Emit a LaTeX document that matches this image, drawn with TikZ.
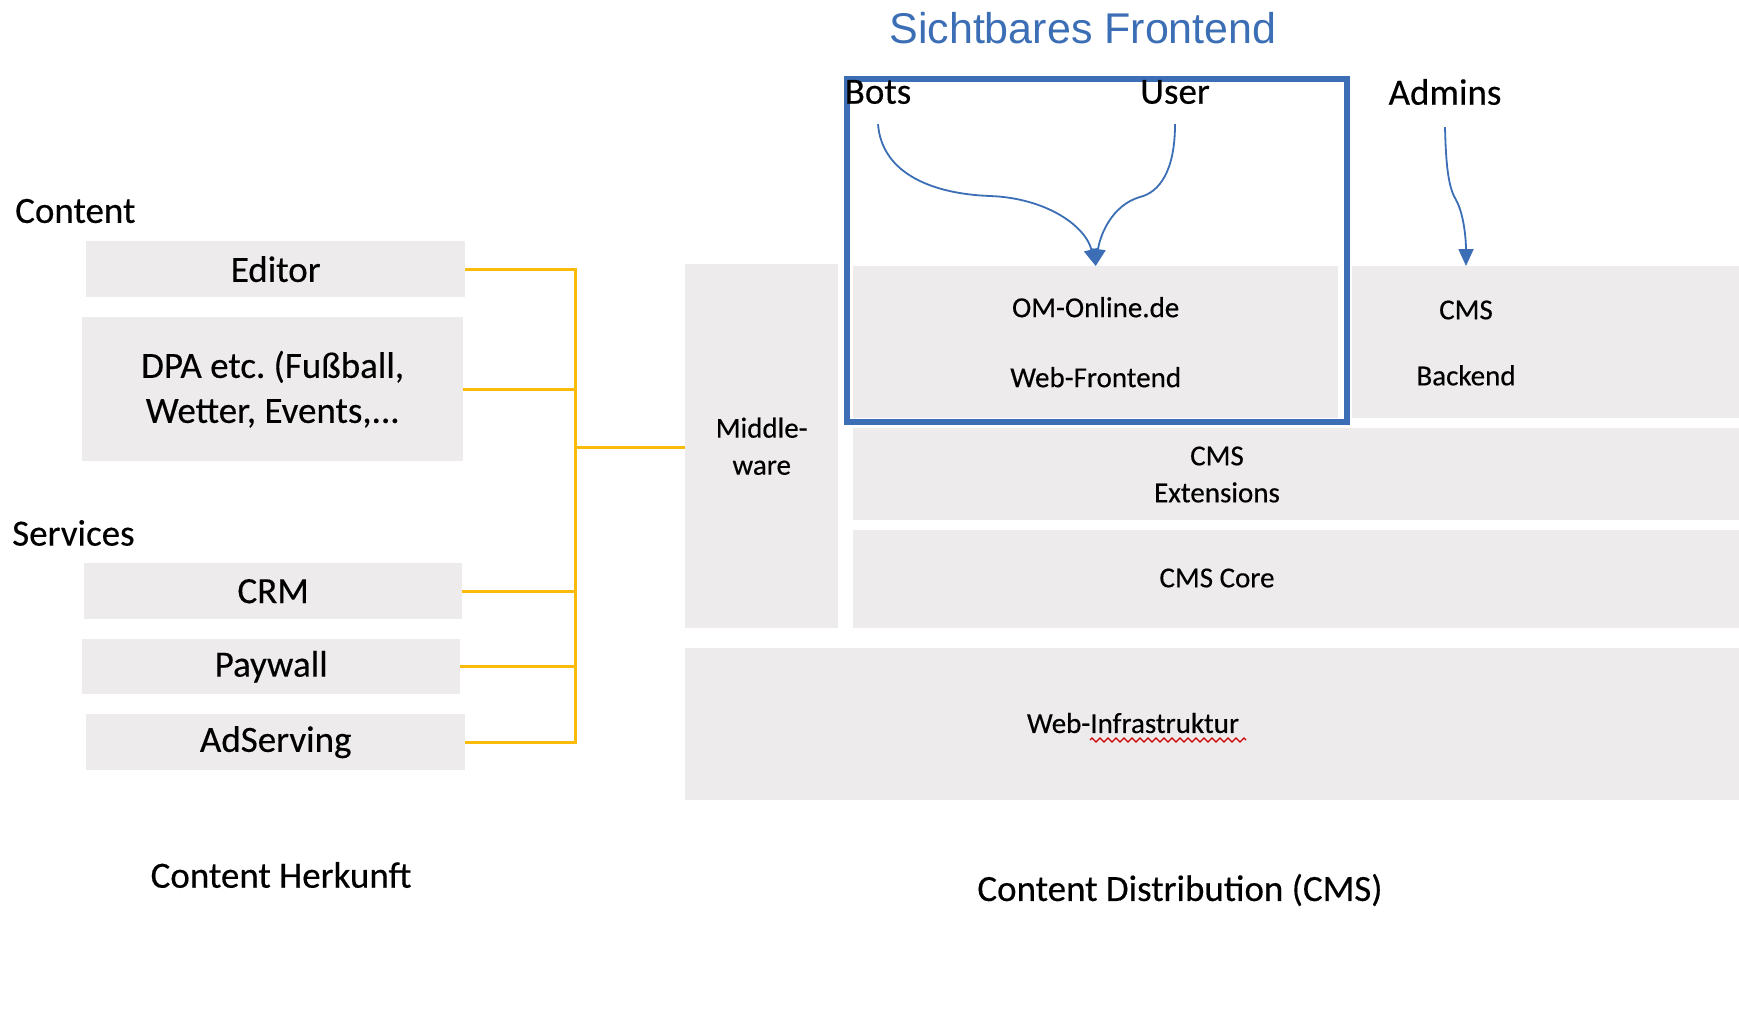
\documentclass[tikz,border=0pt]{standalone}
\usepackage{fontspec}
\setmainfont{Carlito}[FakeBold=0.35]
\newfontfamily\headfont{Liberation Sans}
\usetikzlibrary{arrows.meta,decorations.pathmorphing}
\definecolor{boxgray}{RGB}{237,235,236}
\definecolor{feedyellow}{RGB}{250,186,10}
\definecolor{frontblue}{RGB}{59,110,181}
\frenchspacing
\begin{document}
\begin{tikzpicture}[x=1pt,y=-1pt,
  box/.style={fill=boxgray, draw=none, inner sep=0pt, anchor=north west, align=center},
  bigtxt/.style={font=\fontsize{37}{45}\selectfont},
  smalltxt/.style={font=\fontsize{29}{37}\selectfont},
  lbl/.style={inner sep=0pt, align=center},
  feed/.style={draw=feedyellow, line width=3pt},
  flow/.style={draw=frontblue, line width=1.8pt, -{Triangle[width=15pt,length=17pt]}},
  vis/.style={draw=frontblue, line width=6.5pt, inner sep=0pt, anchor=north west},
  squiggle/.style={draw=red!80!black, line width=1.2pt, decorate,
    decoration={zigzag, segment length=8pt, amplitude=2pt}},
]
\useasboundingbox (0,0) rectangle (1739,1009);

% ---------- left: content origin ----------
\node[lbl,bigtxt,anchor=west] (contentlbl) at (15,211) {Content};
\node[lbl,bigtxt,anchor=west] (serviceslbl) at (12,533) {Services};

\node[box,bigtxt,minimum width=379pt,minimum height=56pt] (editor) at (86,241) {Editor};
\node[box,bigtxt,minimum width=381pt,minimum height=144pt] (dpa) at (82,317)
  {DPA etc. (Fußball,\\[0pt]Wetter, Events,...};
\node[box,bigtxt,minimum width=378pt,minimum height=56pt] (crm) at (84,563) {CRM};
\node[box,bigtxt,minimum width=378pt,minimum height=55pt] (paywall) at (82,639) {Paywall};
\node[box,bigtxt,minimum width=379pt,minimum height=56pt] (adserv) at (86,714) {AdServing};

\node[lbl,bigtxt] (herkunft) at (281,875) {Content Herkunft};

% ---------- right: CMS stack ----------
\node[box,smalltxt,minimum width=153pt,minimum height=364pt] (middleware) at (685,264)
  {Middle-\\ware};
\node[box,minimum width=485pt,minimum height=152pt,
  font=\fontsize{29}{70}\selectfont] (omweb) at (853,266) {OM-Online.de\\Web-Frontend};
\node[box,minimum width=387pt,minimum height=152pt] (backend) at (1352,266) {};
\node[lbl,font=\fontsize{29}{66}\selectfont] (backendtxt) at (1466,343) {CMS\\Backend};
\node[box,minimum width=886pt,minimum height=92pt] (ext) at (853,428) {};
\node[lbl,smalltxt] (exttxt) at (1217,474.5) {CMS\\Extensions};
\node[box,minimum width=886pt,minimum height=98pt] (core) at (853,530) {};
\node[lbl,smalltxt] (coretxt) at (1217,578) {CMS Core};
\node[box,minimum width=1054pt,minimum height=152pt] (infra) at (685,648) {};
\node[lbl,smalltxt] (infratxt) at (1133,723) {Web-Infrastruktur};
\coordinate (sqa) at (1090,740);
\coordinate (sqb) at (1246,740);
\draw[squiggle] (sqa) -- (sqb);

\node[lbl,bigtxt] (distribution) at (1180,890) {Content Distribution (CMS)};

% ---------- visible frontend frame ----------
\node[vis,minimum width=500pt,minimum height=343pt] (visframe) at (843.5,75.5) {};
\node[lbl,text=frontblue,font=\headfont\fontsize{43}{50}\selectfont] (title) at (1083,28)
  {Sichtbares Frontend};

\node[lbl,bigtxt] (bots) at (878,92) {Bots};
\node[lbl,bigtxt] (user) at (1175,92) {User};
\node[lbl,bigtxt] (admins) at (1445,92) {Admins};

% ---------- yellow feeds ----------
\coordinate (jn) at (575,447);
\draw[feed] (editor.east) -| (jn);
\draw[feed] (dpa.east) -| (jn);
\draw[feed] (crm.east) -| (jn);
\draw[feed] (paywall.east) -| (jn);
\draw[feed] (adserv.east) -| (jn);
\draw[feed] (jn) -- (jn -| middleware.west);

% ---------- blue access arrows ----------
\coordinate (admintip) at (1466,266);
\draw[flow] ([yshift=-20pt]bots.south) .. controls (882,175) and (935,194) .. (990,196)
  .. controls (1045,198) and (1085,225) .. (omweb.north);
\draw[flow] ([yshift=-20pt]user.south) .. controls (1175,170) and (1160,192) .. (1140,197)
  .. controls (1112,205) and (1100,235) .. (omweb.north);
\draw[flow] ([yshift=-22pt]admins.south) .. controls (1446,170) and (1449,188) .. (1456,200)
  .. controls (1464,214) and (1466,240) .. (admintip);
\end{tikzpicture}
\end{document}
